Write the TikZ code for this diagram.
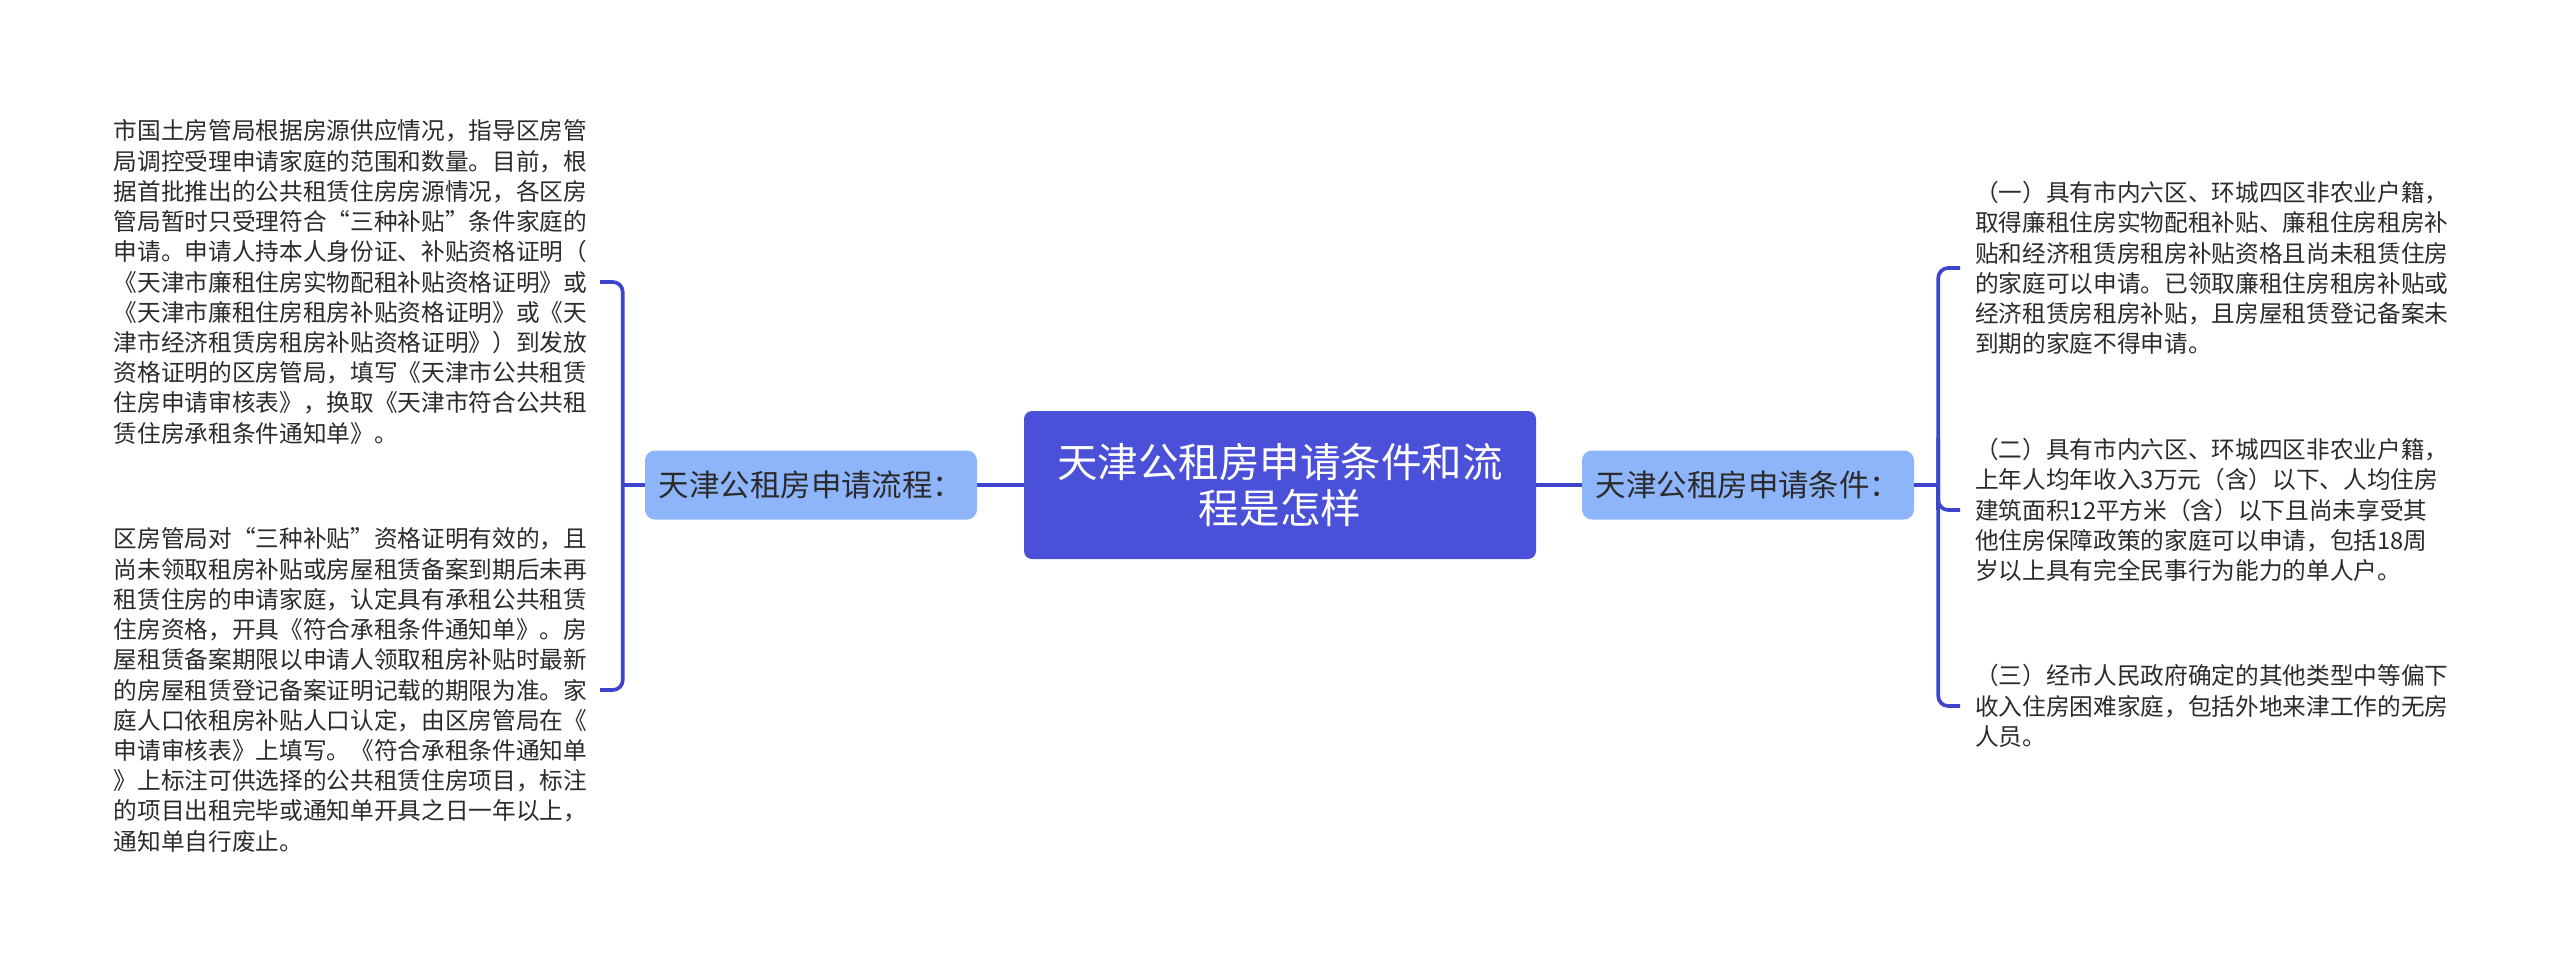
\documentclass[tikz,border=0pt]{standalone}
\usepackage{fontspec}
\setmainfont{Noto Sans CJK SC}
\usepackage{tikz}
\usetikzlibrary{positioning}

\definecolor{rootblue}{HTML}{4B50D9}
\definecolor{branchblue}{HTML}{8EB4F9}
\definecolor{linkblue}{HTML}{3D45CC}
\definecolor{bodytext}{HTML}{2B2B2B}

\tikzset{
  rootbox/.style={draw=none, fill=rootblue, rounded corners=2.4mm, text=white,
    minimum width=153.6mm, minimum height=44.4mm, align=center,
    font={\fontsize{34.6pt}{39.3pt}\selectfont}},
  branchbox/.style={draw=none, fill=branchblue, rounded corners=3mm, text=bodytext,
    minimum width=99.6mm, minimum height=20.7mm,
    font={\fontsize{26pt}{30pt}\selectfont}},
  leaftext/.style={text=bodytext, align=left, inner ysep=0pt, inner xsep=3.6mm,
    text width=142.2mm, font={\fontsize{20.2pt}{25.8pt}\selectfont}},
  link/.style={draw=linkblue, line width=1.1mm},
}

\begin{document}
\begin{tikzpicture}[x=0.3mm,y=-0.3mm]
    \useasboundingbox (0,0) rectangle (2560,972);
    % centre and the two branches
    \node[rootbox] (root) at (1280,485) {天津公租房申请条件和流\\程是怎样};
    \node[branchbox] (flow) at (811,485) {天津公租房申请流程：};
    \node[branchbox] (cond) at (1748,485) {天津公租房申请条件：};
    \draw[link] (root) -- (flow);
    \draw[link] (root) -- (cond);

    % left: the procedure
    \node[leaftext, anchor=east] (flowA) at (600,282) {市国土房管局根据房源供应情况，指导区房管\\
局调控受理申请家庭的范围和数量。目前，根\\
据首批推出的公共租赁住房房源情况，各区房\\
管局暂时只受理符合“三种补贴”条件家庭的\\
申请。申请人持本人身份证、补贴资格证明（\\
《天津市廉租住房实物配租补贴资格证明》或\\
《天津市廉租住房租房补贴资格证明》或《天\\
津市经济租赁房租房补贴资格证明》）到发放\\
资格证明的区房管局，填写《天津市公共租赁\\
住房申请审核表》，换取《天津市符合公共租\\
赁住房承租条件通知单》。};
    \node[leaftext, anchor=east] (flowB) at (600,690) {区房管局对“三种补贴”资格证明有效的，且\\
尚未领取租房补贴或房屋租赁备案到期后未再\\
租赁住房的申请家庭，认定具有承租公共租赁\\
住房资格，开具《符合承租条件通知单》。房\\
屋租赁备案期限以申请人领取租房补贴时最新\\
的房屋租赁登记备案证明记载的期限为准。家\\
庭人口依租房补贴人口认定，由区房管局在《\\
申请审核表》上填写。《符合承租条件通知单\\
》上标注可供选择的公共租赁住房项目，标注\\
的项目出租完毕或通知单开具之日一年以上，\\
通知单自行废止。};
    \coordinate[left=6.6mm of flow] (flowj);
    \draw[link] (flow) -- (flowj);
    \draw[link, rounded corners=3mm] (flowj) |- (flowA.east);
    \draw[link, rounded corners=3mm] (flowj) |- (flowB.east);

    % right: the conditions
    \node[leaftext, anchor=west, inner xsep=4.5mm] (condA) at (1960,268) {（一）具有市内六区、环城四区非农业户籍，\\
取得廉租住房实物配租补贴、廉租住房租房补\\
贴和经济租赁房租房补贴资格且尚未租赁住房\\
的家庭可以申请。已领取廉租住房租房补贴或\\
经济租赁房租房补贴，且房屋租赁登记备案未\\
到期的家庭不得申请。};
    \node[leaftext, anchor=west, inner xsep=4.5mm] (condB) at (1960,510) {（二）具有市内六区、环城四区非农业户籍，\\
上年人均年收入3万元（含）以下、人均住房\\
建筑面积12平方米（含）以下且尚未享受其\\
他住房保障政策的家庭可以申请，包括18周\\
岁以上具有完全民事行为能力的单人户。};
    \node[leaftext, anchor=west, inner xsep=4.5mm] (condC) at (1960,706) {（三）经市人民政府确定的其他类型中等偏下\\
收入住房困难家庭，包括外地来津工作的无房\\
人员。};
    \coordinate[right=7.2mm of cond] (condj);
    \draw[link] (cond) -- (condj);
    \draw[link, rounded corners=3mm] (condj) |- (condA.west);
    \draw[link] (condj) -- (condj |- condB.west);
    \draw[link, rounded corners=3mm] (condj |- condB.north) |- (condB.west);
    \draw[link, rounded corners=3mm] (condj) |- (condC.west);
\end{tikzpicture}
\end{document}
